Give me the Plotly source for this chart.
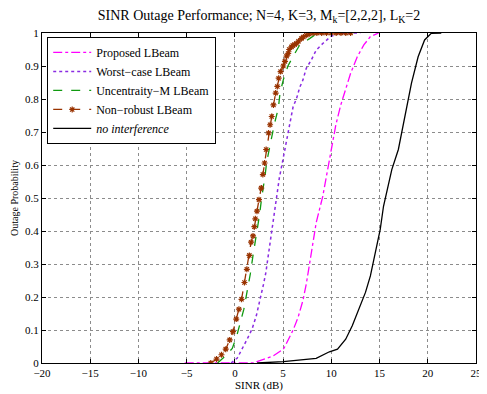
import plotly.graph_objects as go

# ---------------- data ----------------
proposed_x = [-5.2, 2.0, 2.29, 4.0, 5.02, 5.19, 6.04, 6.55, 7.06, 7.4, 7.74, 8.43, 9.11,
              9.62, 10.06, 10.47, 10.98, 11.49, 12.0, 12.69, 13.37, 14.05, 14.9]
proposed_p = [0, 0, 0.004, 0.022, 0.042, 0.05, 0.1, 0.138, 0.19, 0.239, 0.3, 0.425, 0.505,
              0.586, 0.647, 0.722, 0.782, 0.828, 0.878, 0.928, 0.964, 0.989, 1.0]

worst_x = [-0.4, 0.25, 1.27, 1.78, 2.22, 2.63, 2.97, 3.21, 3.38, 3.59, 3.82, 4.0, 4.23, 4.44,
           4.61, 4.88, 5.08, 5.19, 5.63, 6.04, 6.38, 6.72, 7.06, 7.4, 7.92, 8.43, 9.11,
           9.96, 10.8, 13.0]
worst_p = [0, 0.015, 0.072, 0.103, 0.143, 0.193, 0.239, 0.274, 0.309, 0.354, 0.4, 0.445, 0.485,
           0.52, 0.561, 0.601, 0.631, 0.647, 0.722, 0.777, 0.80, 0.835, 0.858, 0.893, 0.918,
           0.948, 0.968, 0.99, 0.999, 1.0]

uncert_x = [-1.8, -1.22, -0.27, 0.17, 0.93, 1.2, 1.6, 1.88, 2.12, 2.36, 2.56, 2.73, 2.94, 3.14,
            3.31, 3.59, 4.1, 4.51, 4.68, 5.02, 5.5, 6.04, 6.72, 7.74, 8.6]
uncert_p = [0, 0.015, 0.044, 0.08, 0.163, 0.203, 0.27, 0.326, 0.37, 0.405, 0.45, 0.49, 0.528,
            0.571, 0.611, 0.652, 0.725, 0.773, 0.818, 0.858, 0.9, 0.929, 0.964, 0.983, 1.0]

nonrob_x = [-2.5, -1.9, -1.39, -0.95, -0.54, -0.2, 0.14, 0.42, 0.69, 0.99, 1.24, 1.5, 1.68,
            1.88, 2.02, 2.12, 2.29, 2.5, 2.73, 2.9, 3.08, 3.24, 3.49, 3.65, 3.82, 4.0, 4.23,
            4.4, 4.54, 4.74, 5.02, 5.19, 5.36, 5.53, 5.63, 5.87, 6.0, 6.2, 6.38, 6.6, 6.89,
            7.1, 7.4, 7.7, 8.1, 8.5, 9.0, 9.5, 10.0, 10.5, 11.0, 11.5, 12.0]
nonrob_p = [0, 0.012, 0.025, 0.042, 0.07, 0.095, 0.133, 0.163, 0.193, 0.244, 0.284, 0.326,
            0.366, 0.385, 0.413, 0.437, 0.46, 0.495, 0.53, 0.571, 0.606, 0.647, 0.697, 0.722,
            0.747, 0.782, 0.818, 0.838, 0.863, 0.883, 0.9, 0.914, 0.93, 0.938, 0.95, 0.958,
            0.962, 0.965, 0.968, 0.975, 0.983, 0.988, 0.993, 0.997, 1.0, 1.0, 1.0, 1.0, 1.0,
            1.0, 1.0, 1.0, 1.0]

noint_x = [2.3, 5.02, 8.43, 9.8, 10.64, 11.49, 12.17, 12.86, 13.54, 14.05, 14.56, 15.07,
           15.41, 15.86, 16.27, 16.95, 17.63, 18.31, 19.0, 19.67, 20.36, 21.4]
noint_p = [0, 0.004, 0.014, 0.034, 0.042, 0.072, 0.113, 0.163, 0.214, 0.264, 0.334, 0.405,
           0.475, 0.536, 0.586, 0.647, 0.747, 0.848, 0.928, 0.979, 0.999, 1.0]

x_ticks = [-20, -15, -10, -5, 0, 5, 10, 15, 20, 25]
y_ticks = [0, 0.1, 0.2, 0.3, 0.4, 0.5, 0.6, 0.7, 0.8, 0.9, 1]

# ---------------- styles ----------------
MAGENTA = "#FF00FF"
PURPLE = "#8A2BE2"
GREEN = "#109A10"
BROWN = "#993300"
FONT = "Liberation Serif, Times New Roman, serif"

fig = go.Figure()
fig.add_trace(go.Scatter(x=proposed_x, y=proposed_p, mode="lines", name="Proposed LBeam",
                         line=dict(color=MAGENTA, width=1.3, dash="dashdot")))
fig.add_trace(go.Scatter(x=worst_x, y=worst_p, mode="lines", name="Worst\u2212case LBeam",
                         line=dict(color=PURPLE, width=1.5, dash="dot")))
fig.add_trace(go.Scatter(x=uncert_x, y=uncert_p, mode="lines", name="Uncentraity\u2212M LBeam",
                         line=dict(color=GREEN, width=1.3, dash="dash")))
fig.add_trace(go.Scatter(x=nonrob_x, y=nonrob_p, mode="lines+markers", name="Non\u2212robust LBeam",
                         line=dict(color=BROWN, width=1.3, dash="dash"),
                         marker=dict(symbol="asterisk-open", size=5, color=BROWN,
                                     line=dict(color=BROWN, width=1.2))))
fig.add_trace(go.Scatter(x=noint_x, y=noint_p, mode="lines", name="<i>no interference</i>",
                         line=dict(color="black", width=1.3)))

axis_common = dict(
    showline=True, linecolor="black", linewidth=1, mirror="ticks",
    ticks="inside", ticklen=4, tickcolor="black", tickwidth=1,
    showgrid=True, gridcolor="#8c8c8c", griddash="dot", gridwidth=1,
    zeroline=False, tickfont=dict(family=FONT, size=11, color="black"),
    ticklabeloverflow="allow",
)

fig.update_xaxes(range=[-20, 25], tickvals=x_ticks,
                 title=dict(text="SINR (dB)", font=dict(family=FONT, size=11, color="black"),
                            standoff=2),
                 **axis_common)
fig.update_yaxes(range=[0, 1], tickvals=y_ticks,
                 title=dict(text="Outage Probability", font=dict(family=FONT, size=10, color="black"),
                            standoff=4),
                 **axis_common)

# The page body has an 8px default margin, so the figure is sized to fit inside the window.
fig.update_layout(
    width=479, height=386,
    margin=dict(l=34, r=5, t=25, b=30),
    paper_bgcolor="white", plot_bgcolor="white",
    font=dict(family=FONT, color="black"),
    title=dict(text="SINR Outage Performance; N=4, K=3, M<sub>k</sub>=[2,2,2], L<sub>K</sub>=2",
               font=dict(family=FONT, size=14, color="black"),
               xref="paper", x=0.5, xanchor="center", y=0.981, yanchor="middle"),
    legend=dict(x=0.012, y=0.988, xanchor="left", yanchor="top",
                bgcolor="white", bordercolor="black", borderwidth=1,
                font=dict(family=FONT, size=12, color="black"),
                tracegroupgap=0, itemwidth=38),
    showlegend=True,
)

fig.write_html("out.html")
